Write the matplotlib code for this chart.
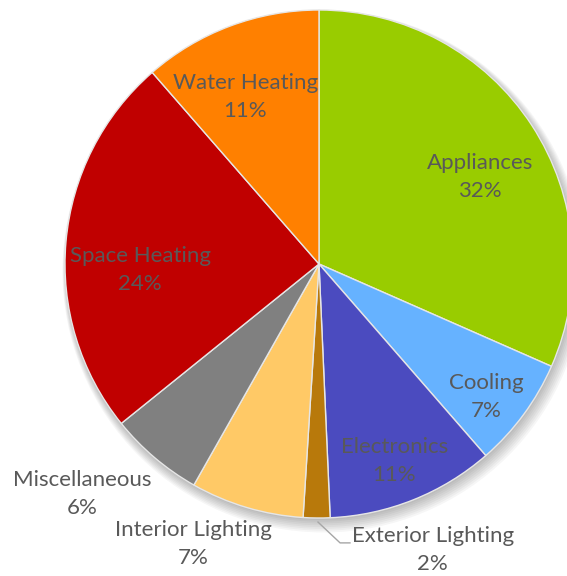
import matplotlib.pyplot as plt
import numpy as np
from matplotlib.patches import Circle

categories = ["Appliances", "Cooling", "Electronics", "Exterior Lighting",
              "Interior Lighting", "Miscellaneous", "Space Heating", "Water Heating"]
shares = [31.6, 7.0, 10.7, 1.7, 7.2, 6.0, 24.4, 11.4]
colors = ["#99CC00", "#66B2FF", "#4B4BBF", "#B8790B",
          "#FFC966", "#808080", "#C00000", "#FF8000"]

# label placement: (radius, angle in degrees) per slice
label_pos = [(0.72, 28.4), (0.84, -38.4), (0.83, -69.1), (1.21, -68.3),
             (1.21, -114.2), (1.30, -135.9), (0.705, -178.1), (0.72, 113.8)]

plt.rcParams["font.family"] = ["Lato", "DejaVu Sans"]
text_color = "#595959"

px = 254.0
cx, cy = 319, 264
fig = plt.figure(figsize=(5.67, 5.76), dpi=100)
ax = fig.add_axes([0, 0, 1, 1])

# soft shadow under the pie
for i in range(8):
    ax.add_patch(Circle((0.004 + i * 0.002, -0.008 - i * 0.003), 1.0 + i * 0.004,
                        color="black", alpha=0.035, lw=0, zorder=0))

wedges, _ = ax.pie(shares, colors=colors, startangle=90, counterclock=False,
                   radius=1.0, center=(0, 0), frame=True,
                   wedgeprops=dict(edgecolor="#E6E6E6", linewidth=1.0))
for w in wedges:
    w.set_zorder(2)
ax.set_xlim(-cx / px, (567 - cx) / px)
ax.set_ylim(-(576 - cy) / px, cy / px)
ax.axis("off")

for name, val, (r, a) in zip(categories, shares, label_pos):
    ang = np.deg2rad(a)
    ax.text(r * np.cos(ang), r * np.sin(ang), f"{name}\n{round(val)}%",
            ha="center", va="center", fontsize=16, color=text_color,
            linespacing=1.5, zorder=5)

# leader line for the thin slice
ax.plot([-0.004, 0.083, 0.122], [-1.016, -1.098, -1.098],
        color="#A6A6A6", lw=1.0, zorder=4)

fig.savefig("out.png", dpi=100)
